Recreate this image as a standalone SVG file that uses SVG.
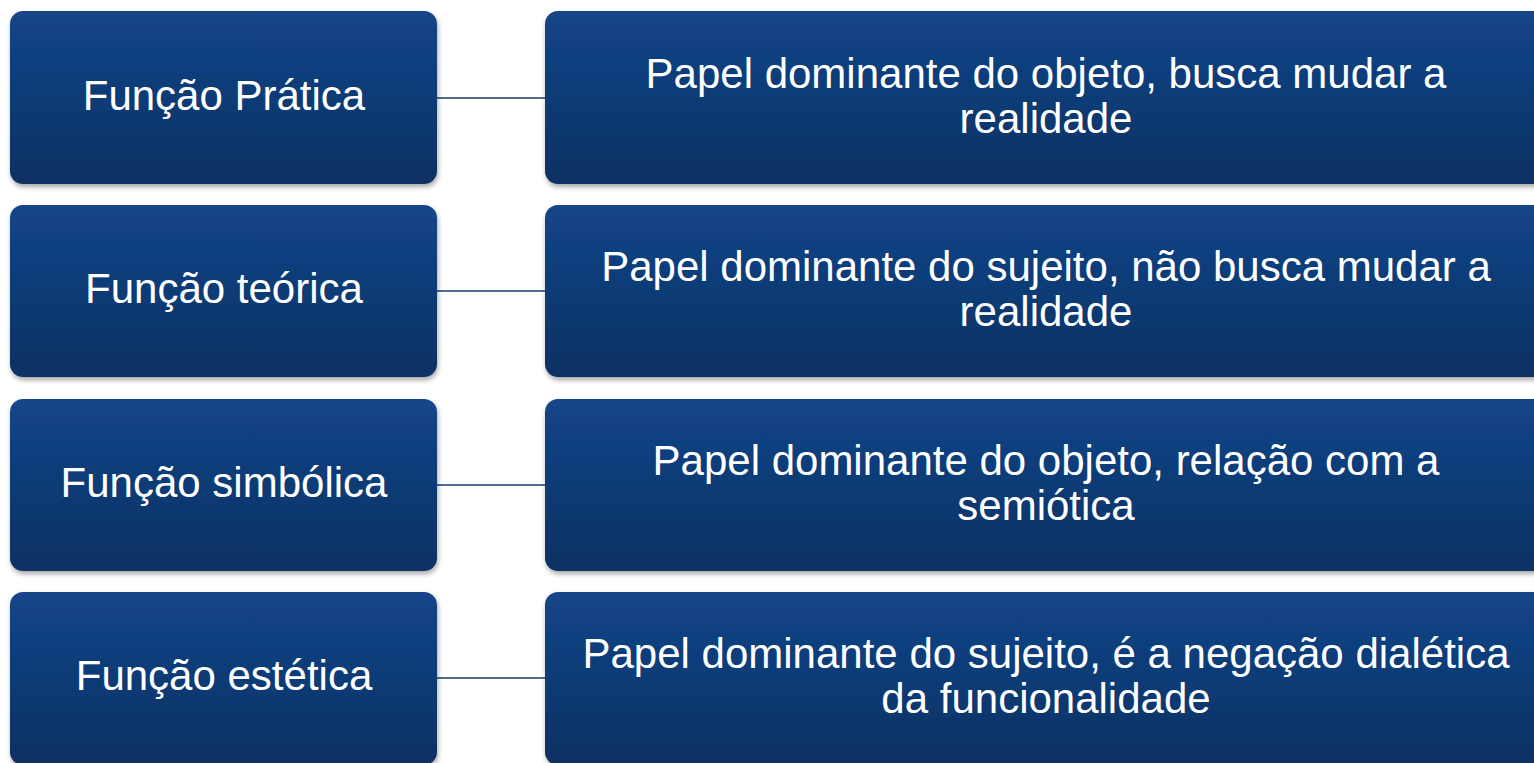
<svg xmlns="http://www.w3.org/2000/svg" width="1534" height="763" viewBox="0 0 1534 763">
<defs>
<linearGradient id="g" x1="0" y1="0" x2="0" y2="1">
<stop offset="0" stop-color="#134589"/>
<stop offset="1" stop-color="#0b3162"/>
</linearGradient>
<filter id="sh" x="-5%" y="-10%" width="115%" height="130%">
<feDropShadow dx="1" dy="3" stdDeviation="2.5" flood-color="#000" flood-opacity="0.35"/>
</filter>
</defs>
<style>
.box{fill:url(#g);filter:url(#sh);}
.t{fill:#fff;font-family:"Liberation Sans",Arial,sans-serif;font-size:42px;text-anchor:middle;}
.c{stroke:#1c3a68;stroke-width:1.5;fill:none;}
</style>
<rect width="1534" height="763" fill="#fff"/>
<g id="connectors">
<line class="c" x1="437" y1="98" x2="545" y2="98"/>
<line class="c" x1="437" y1="291" x2="545" y2="291"/>
<line class="c" x1="437" y1="485" x2="545" y2="485"/>
<line class="c" x1="437" y1="678" x2="545" y2="678"/>
</g>
<g id="n1"><rect class="box" x="10" y="11" width="427" height="173" rx="13"/><text class="t" x="224" y="110">Função Prática</text></g>
<g id="n1d"><rect class="box" x="545" y="11" width="1003" height="173" rx="13"/><text class="t" x="1046" y="88">Papel dominante do objeto, busca mudar a</text><text class="t" x="1046" y="133">realidade</text></g>
<g id="n2"><rect class="box" x="10" y="205" width="427" height="172" rx="13"/><text class="t" x="224" y="303">Função teórica</text></g>
<g id="n2d"><rect class="box" x="545" y="205" width="1003" height="172" rx="13"/><text class="t" x="1046" y="281">Papel dominante do sujeito, não busca mudar a</text><text class="t" x="1046" y="326">realidade</text></g>
<g id="n3"><rect class="box" x="10" y="399" width="427" height="172" rx="13"/><text class="t" x="224" y="497">Função simbólica</text></g>
<g id="n3d"><rect class="box" x="545" y="399" width="1003" height="172" rx="13"/><text class="t" x="1046" y="475">Papel dominante do objeto, relação com a</text><text class="t" x="1046" y="520">semiótica</text></g>
<g id="n4"><rect class="box" x="10" y="592" width="427" height="173" rx="13"/><text class="t" x="224" y="690">Função estética</text></g>
<g id="n4d"><rect class="box" x="545" y="592" width="1003" height="173" rx="13"/><text class="t" x="1046" y="668">Papel dominante do sujeito, é a negação dialética</text><text class="t" x="1046" y="713">da funcionalidade</text></g>
</svg>
